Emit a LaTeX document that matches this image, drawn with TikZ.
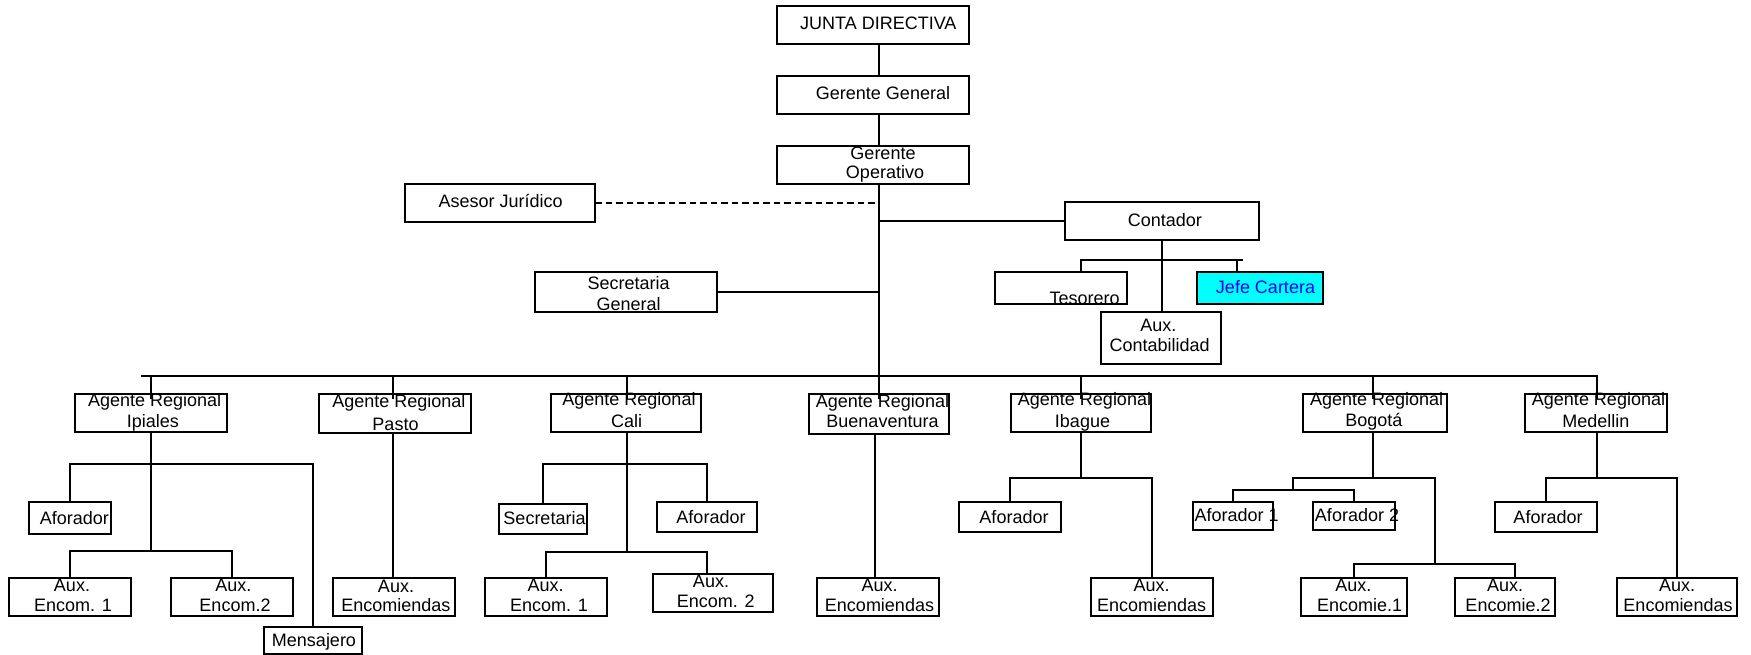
\documentclass[tikz,border=0pt]{standalone}
\usepackage{fontspec}
\newfontfamily\orgfam{Liberation Sans}
\newcommand\orgsize{\fontsize{18pt}{20pt}\selectfont}
\definecolor{cartera}{RGB}{0,255,255}
\definecolor{carteratxt}{RGB}{0,0,255}
\begin{document}
\begin{tikzpicture}[x=1pt,y=-1pt,
  bx/.style={draw, line width=2pt, anchor=north west, inner sep=0pt, outer sep=0pt},
  tx/.style={anchor=base, inner sep=0pt, outer sep=0pt, font=\orgfam\orgsize},
  ln/.style={line width=2pt, line join=miter},
  dln/.style={ln, dash pattern=on 6.5pt off 4pt}]
\useasboundingbox (0,0) rectangle (1751,655);

% ---------- boxes: top management ----------
\node[bx, minimum width=192pt, minimum height=38pt] (jd) at (777,6) {};
\node[bx, minimum width=192pt, minimum height=38pt] (gg) at (777,76) {};
\node[bx, minimum width=192pt, minimum height=38pt] (go) at (777,146) {};
\node[bx, minimum width=190pt, minimum height=38pt] (aj) at (405,184) {};
\node[bx, minimum width=194pt, minimum height=38pt] (ct) at (1065,202) {};
\node[bx, minimum width=182pt, minimum height=40pt] (sg) at (535,272) {};
\node[bx, minimum width=132pt, minimum height=32pt] (te) at (995,272) {};
\node[bx, fill=cartera, minimum width=126pt, minimum height=32pt] (jc) at (1197,272) {};
\node[bx, minimum width=120pt, minimum height=52pt] (ac) at (1101,312) {};

% ---------- boxes: regional agents ----------
\node[bx, minimum width=152pt, minimum height=38pt] (ipi) at (75,394) {};
\node[bx, minimum width=152pt, minimum height=39pt] (pas) at (319,394) {};
\node[bx, minimum width=150pt, minimum height=38pt] (cal) at (551,394) {};
\node[bx, minimum width=140pt, minimum height=40pt] (bue) at (809,394) {};
\node[bx, minimum width=140pt, minimum height=38pt] (iba) at (1011,394) {};
\node[bx, minimum width=144pt, minimum height=38pt] (bog) at (1303,394) {};
\node[bx, minimum width=142pt, minimum height=38pt] (med) at (1525,394) {};

% ---------- boxes: second level ----------
\node[bx, minimum width=82pt, minimum height=32pt] (ipiAfo) at (29,502) {};
\node[bx, minimum width=88pt, minimum height=30pt] (calSec) at (499,504) {};
\node[bx, minimum width=100pt, minimum height=30pt] (calAfo) at (657,502) {};
\node[bx, minimum width=102pt, minimum height=30pt] (ibaAfo) at (959,502) {};
\node[bx, minimum width=80pt, minimum height=28pt] (bogAf1) at (1193,502) {};
\node[bx, minimum width=82pt, minimum height=28pt] (bogAf2) at (1313,502) {};
\node[bx, minimum width=102pt, minimum height=30pt] (medAfo) at (1495,502) {};

% ---------- boxes: third level ----------
\node[bx, minimum width=122pt, minimum height=38pt] (ipiA1) at (9,578) {};
\node[bx, minimum width=122pt, minimum height=38pt] (ipiA2) at (171,578) {};
\node[bx, minimum width=98pt, minimum height=27pt] (ipiMen) at (264,627) {};
\node[bx, minimum width=122pt, minimum height=38pt] (pasA) at (333,578) {};
\node[bx, minimum width=122pt, minimum height=38pt] (calA1) at (485,578) {};
\node[bx, minimum width=120pt, minimum height=38pt] (calA2) at (653,574) {};
\node[bx, minimum width=122pt, minimum height=38pt] (bueA) at (817,578) {};
\node[bx, minimum width=122pt, minimum height=38pt] (ibaA) at (1091,578) {};
\node[bx, minimum width=106pt, minimum height=38pt] (bogA1) at (1301,578) {};
\node[bx, minimum width=100pt, minimum height=38pt] (bogA2) at (1455,578) {};
\node[bx, minimum width=120pt, minimum height=38pt] (medA) at (1617,578) {};

% ---------- connectors: top ----------
\coordinate (spine) at (879,0);
\coordinate (mainL) at (141,376);
\coordinate (mainR) at (1597,376);
\draw[ln] (jd.south -| spine) -- (gg.north -| spine);
\draw[ln] (gg.south -| spine) -- (go.north -| spine);
\draw[ln] (go.south -| spine) -- (spine |- mainL);
\draw[dln] (aj.east) -- (aj.east -| spine);
\draw[ln] (ct.west) -- (ct.west -| spine);
\draw[ln] (sg.east) -- (sg.east -| spine);

% accounting branch
\coordinate (ctL) at (1081,260);
\coordinate (ctR) at (1243,260);
\coordinate (jcX) at (1237,260);
\draw[ln] (ct.south) -- (ct.south |- ac.north);
\draw[ln] (te.north -| ctL) -- (ctL) -- (ctR);
\draw[ln] (jcX) -- (jcX |- jc.north);

% main distribution bar and drops to the regional agents
\draw[ln] (mainL) -- (mainR) -- ([yshift=-5pt]mainR |- med.north);
\coordinate (dIpi) at (151,376);
\coordinate (dPas) at (393,376);
\coordinate (dCal) at (627,376);
\coordinate (dBue) at (879,376);
\coordinate (dIba) at (1081,376);
\coordinate (dBog) at (1373,376);
\draw[ln] (dIpi) -- ([yshift=-5pt]dIpi |- ipi.north);
\draw[ln] (dPas) -- ([yshift=-5pt]dPas |- pas.north);
\draw[ln] (dCal) -- ([yshift=-5pt]dCal |- cal.north);
\draw[ln] (dBue) -- ([yshift=-5pt]dBue |- bue.north);
\draw[ln] (dIba) -- ([yshift=-5pt]dIba |- iba.north);
\draw[ln] (dBog) -- ([yshift=-5pt]dBog |- bog.north);

% Ipiales
\coordinate (ipiJ1) at (151,464);
\coordinate (ipiJ2) at (151,551);
\draw[ln] (ipiJ1 |- ipi.south) -- (ipiJ2);
\draw[ln] (ipiAfo.north) |- (ipiJ1) -| (ipiMen.north);
\draw[ln] (ipiA1.north) |- (ipiJ2) -| (ipiA2.north);

% Pasto
\coordinate (pasX) at (393,0);
\draw[ln] (pasX |- pas.south) -- (pasX |- pasA.north);

% Cali
\coordinate (calJ1) at (627,464);
\coordinate (calJ2) at (627,552);
\coordinate (calA2x) at (707,0);
\draw[ln] (calJ1 |- cal.south) -- (calJ2);
\draw[ln] (calSec.north) |- (calJ1) -| (calAfo.north);
\draw[ln] (calA1.north) |- (calJ2) -| (calA2x |- calA2.north);

% Buenaventura
\coordinate (bueX) at (875,0);
\draw[ln] (bueX |- bue.south) -- (bueX |- bueA.north);

% Ibague
\coordinate (ibaJ) at (1081,478);
\draw[ln] (ibaJ |- iba.south) -- (ibaJ);
\draw[ln] (ibaAfo.north) |- (ibaJ) -| (ibaA.north);

% Bogota
\coordinate (bogJ) at (1373,478);
\coordinate (bogL) at (1293,478);
\coordinate (bogR) at (1435,478);
\coordinate (bogK) at (1293,490);
\coordinate (bogM) at (1435,564);
\coordinate (bogA2x) at (1515,0);
\draw[ln] (bogJ |- bog.south) -- (bogJ);
\draw[ln] (bogK) -- (bogL) -- (bogR) -- (bogM);
\draw[ln] (bogAf1.north) |- (bogK) -| (bogAf2.north);
\draw[ln] (bogA1.north) |- (bogM) -| (bogA2x |- bogA2.north);

% Medellin
\coordinate (medJ) at (1597,478);
\draw[ln] (medJ |- med.south) -- (medJ);
\draw[ln] (medAfo.north) |- (medJ) -| (medA.north);

% ---------- labels ----------
\node[tx] (jd-t) at (878.3,29.5) {JUNTA DIRECTIVA};
\node[tx] (gg-t) at (883,99.5) {Gerente General};
\node[tx] (go-t1) at (883,160) {Gerente};
\node[tx] (go-t2) at (885,178.5) {Operativo};
\node[tx] (aj-t) at (500.7,207.7) {Asesor Jurídico};
\node[tx] (ct-t) at (1164.8,226) {Contador};
\node[tx] (sg-t1) at (628.7,289.3) {Secretaria};
\node[tx] (sg-t2) at (628.7,310.7) {General};
\node[tx] (te-t) at (1084.7,304.5) {Tesorero};
\node[tx, text=carteratxt] (jc-t) at (1265.5,293.3) {Jefe Cartera};
\node[tx] (ac-t1) at (1158.3,331.7) {Aux.};
\node[tx] (ac-t2) at (1159.7,351.7) {Contabilidad};

\node[tx] (ipi-t1) at (154.7,406.5) {Agente Regional};
\node[tx] (ipi-t2) at (152.8,427.3) {Ipiales};
\node[tx] (pas-t1) at (398.8,407.7) {Agente Regional};
\node[tx] (pas-t2) at (395.5,430) {Pasto};
\node[tx] (cal-t1) at (629,405.7) {Agente Regional};
\node[tx] (cal-t2) at (626.7,427.7) {Cali};
\node[tx] (bue-t1) at (882.5,407.7) {Agente Regional};
\node[tx] (bue-t2) at (882.5,427.7) {Buenaventura};
\node[tx] (iba-t1) at (1084.5,405.7) {Agente Regional};
\node[tx] (iba-t2) at (1082.5,427.3) {Ibague};
\node[tx] (bog-t1) at (1376.7,405.7) {Agente Regional};
\node[tx] (bog-t2) at (1373.8,426.7) {Bogotá};
\node[tx] (med-t1) at (1598.5,405.7) {Agente Regional};
\node[tx] (med-t2) at (1595.8,427.3) {Medellin};

\node[tx] (ipiAfo-t) at (74.3,524) {Aforador};
\node[tx] (calSec-t) at (544.5,524) {Secretaria};
\node[tx] (calAfo-t) at (711,523.3) {Aforador};
\node[tx] (ibaAfo-t) at (1014,523.3) {Aforador};
\node[tx] (bogAf1-t) at (1236.7,521.7) {Aforador 1};
\node[tx] (bogAf2-t) at (1357,521.7) {Aforador 2};
\node[tx] (medAfo-t) at (1548,523.3) {Aforador};

\node[tx] (ipiA1-t1) at (72,591.7) {Aux.};
\node[tx] (ipiA1-t2) at (73,611.7) {Encom. 1};
\node[tx] (ipiA2-t1) at (233.3,591.7) {Aux.};
\node[tx] (ipiA2-t2) at (235,611.7) {Encom.2};
\node[tx] (ipiMen-t) at (314,646) {Mensajero};
\node[tx] (pasA-t1) at (396,592) {Aux.};
\node[tx] (pasA-t2) at (395.8,611.7) {Encomiendas};
\node[tx] (calA1-t1) at (545.6,591.7) {Aux.};
\node[tx] (calA1-t2) at (549,611.7) {Encom. 1};
\node[tx] (calA2-t1) at (711,587.7) {Aux.};
\node[tx] (calA2-t2) at (715.7,607.7) {Encom. 2};
\node[tx] (bueA-t1) at (879.7,591.7) {Aux.};
\node[tx] (bueA-t2) at (879.5,611.7) {Encomiendas};
\node[tx] (ibaA-t1) at (1151.7,591.7) {Aux.};
\node[tx] (ibaA-t2) at (1151.7,611.7) {Encomiendas};
\node[tx] (bogA1-t1) at (1353.3,591.7) {Aux.};
\node[tx] (bogA1-t2) at (1359.7,611.7) {Encomie.1};
\node[tx] (bogA2-t1) at (1505,591.7) {Aux.};
\node[tx] (bogA2-t2) at (1508,611.7) {Encomie.2};
\node[tx] (medA-t1) at (1677,591.7) {Aux.};
\node[tx] (medA-t2) at (1678,611.7) {Encomiendas};
\end{tikzpicture}
\end{document}
